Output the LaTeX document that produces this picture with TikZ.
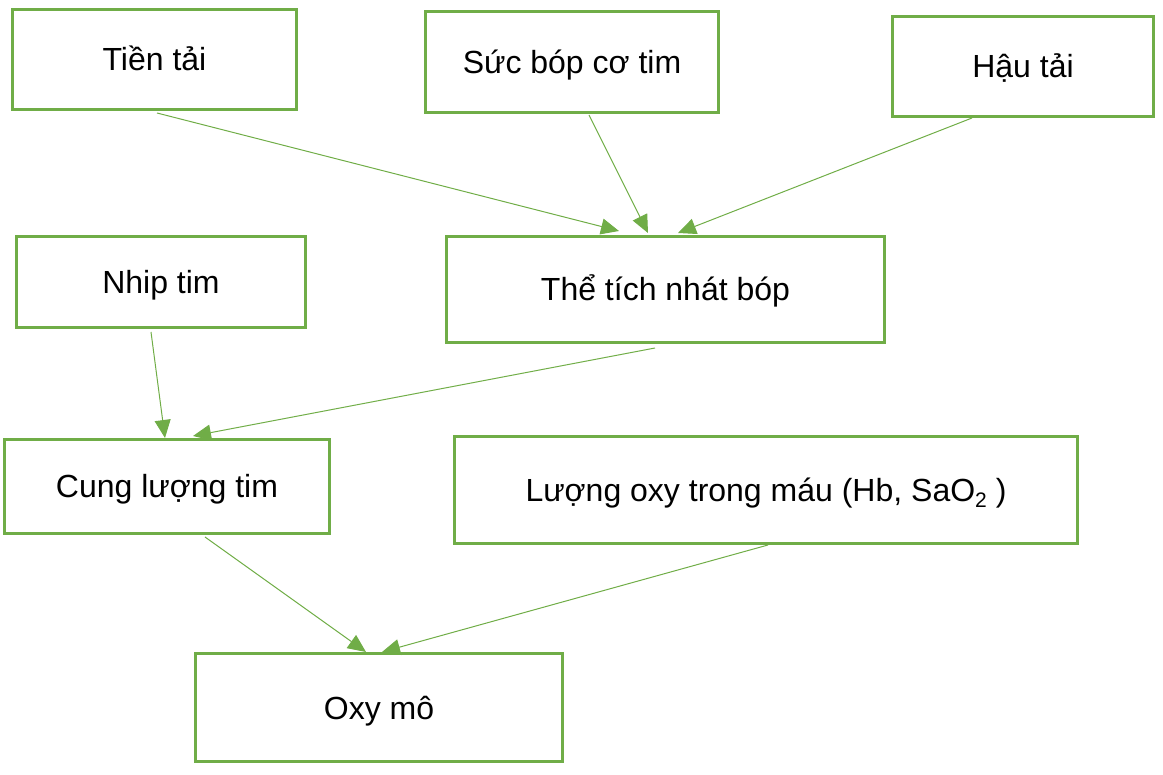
\documentclass[tikz,border=0pt]{standalone}
\usepackage{fontspec}
\setmainfont{Liberation Sans}
\usetikzlibrary{arrows.meta}
\definecolor{gr}{HTML}{70AD47}
\tikzset{
  box/.style={draw=gr, line width=3pt, fill=white, inner sep=0pt, outer sep=0pt,
    font=\fontsize{32}{36}\selectfont, text height=23pt, text depth=0pt},
  conn/.style={draw=gr, line width=1pt, -{Triangle[length=18pt,width=16pt]}}
}
\begin{document}
\begin{tikzpicture}[x=1pt,y=-1pt]
\useasboundingbox (0,0) rectangle (1163,775);
\node[box, minimum width=284pt, minimum height=100pt] (t1) at (154.5,59.5) {Tiền tải};
\node[box, minimum width=293pt, minimum height=101pt] (t2) at (572,62) {Sức bóp cơ tim};
\node[box, minimum width=261pt, minimum height=100pt] (t3) at (1023,66.5) {Hậu tải};
\node[box, minimum width=289pt, minimum height=91pt] (t4) at (161,282) {Nhip tim};
\node[box, minimum width=438pt, minimum height=106pt] (t5) at (665.5,289.5) {Thể tích nhát bóp};
\node[box, minimum width=325pt, minimum height=94pt] (t6) at (167,486.5) {Cung lượng tim};
\node[box, minimum width=623pt, minimum height=107pt] (t7) at (766,490) {Lượng oxy trong máu (Hb, SaO\raisebox{-6pt}{\fontsize{21}{21}\selectfont 2} )};
\node[box, minimum width=367pt, minimum height=108pt] (t8) at (379,707.5) {Oxy mô};
\draw[conn] ([xshift=2.5pt,yshift=-3.5pt]t1.south) -- ([xshift=-46.5pt,yshift=5.5pt]t5.north);
\draw[conn] ([xshift=17pt,yshift=-2.5pt]t2.south) -- ([xshift=-17.5pt,yshift=3.5pt]t5.north);
\draw[conn] ([xshift=-51pt,yshift=-1.5pt]t3.south) -- ([xshift=12.5pt,yshift=3.5pt]t5.north);
\draw[conn] ([xshift=-10pt,yshift=-4.5pt]t4.south) -- ([xshift=-2pt,yshift=1.5pt]t6.north);
\draw[conn] ([xshift=-10.5pt,yshift=-5.5pt]t5.south) -- ([xshift=26pt,yshift=3.5pt]t6.north);
\draw[conn] ([xshift=38pt,yshift=-3.5pt]t6.south) -- ([xshift=-13pt,yshift=1.5pt]t8.north);
\draw[conn] ([xshift=2pt,yshift=-1.5pt]t7.south) -- ([xshift=3pt,yshift=1.5pt]t8.north);
\end{tikzpicture}
\end{document}
